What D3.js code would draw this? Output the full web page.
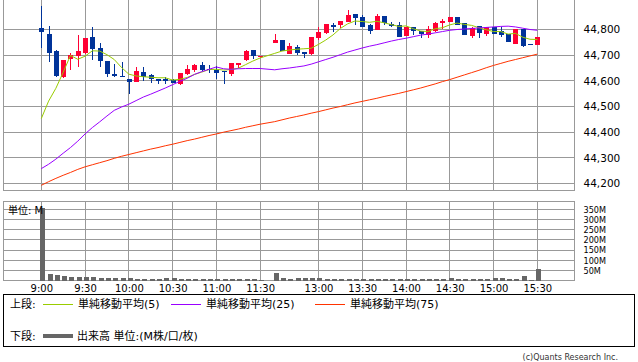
<!DOCTYPE html>
<html>
<head>
<meta charset="utf-8">
<script src="https://cdn.jsdelivr.net/npm/d3@7"></script>
<style>
  body { margin: 0; background: #fff; }
  svg { display: block; font-family: "DejaVu Sans", "Noto Sans CJK JP", sans-serif; }
</style>
</head>
<body>
<div id="chart"></div>
<script>
// 1: DATA (5-minute bars)
const times = [
  "9:00","9:05","9:10","9:15","9:20","9:25","9:30","9:35","9:40","9:45","9:50","9:55",
  "10:00","10:05","10:10","10:15","10:20","10:25","10:30","10:35","10:40","10:45","10:50","10:55",
  "11:00","11:05","11:10","11:15","11:20","11:25","11:30",
  "12:30","12:35","12:40","12:45","12:50","12:55",
  "13:00","13:05","13:10","13:15","13:20","13:25","13:30","13:35","13:40","13:45","13:50","13:55",
  "14:00","14:05","14:10","14:15","14:20","14:25","14:30","14:35","14:40","14:45","14:50","14:55",
  "15:00","15:05","15:10","15:15","15:20","15:25","15:30"
];
const opens = [
  44805,44783,44716,44615,44685,44697,44709,44770,44727,44677,44626,44618,
  44609,44596,44634,44621,44606,44609,44604,44587,44626,44641,44661,44645,
  44643,44637,44627,44661,44680,44719,44691,
  44748,44758,44705,44730,44713,44705,
  44767,44787,44817,44817,44830,44860,44848,44817,44800,44852,44823,44816,
  44775,44808,44795,44779,44795,44826,44828,44848,44825,44775,44813,44782,
  44809,44795,44782,44744,44801,44743,44740
];
const highs = [
  44891,44814,44722,44683,44709,44778,44766,44808,44747,44677,44665,44673,
  44609,44653,44653,44626,44609,44613,44607,44630,44661,44665,44673,44661,
  44657,44637,44669,44669,44722,44719,44696,
  44783,44758,44748,44741,44713,44770,
  44809,44821,44825,44832,44875,44860,44856,44821,44860,44852,44828,44828,
  44809,44808,44795,44812,44828,44840,44848,44848,44825,44810,44813,44808,
  44809,44810,44782,44802,44801,44743,44770
];
const lows = [
  44728,44674,44613,44612,44641,44652,44704,44683,44654,44615,44615,44613,
  44548,44596,44600,44590,44587,44587,44590,44584,44621,44635,44639,44631,
  44606,44587,44618,44649,44678,44686,44689,
  44748,44715,44705,44699,44690,44699,
  44758,44781,44791,44806,44830,44816,44810,44783,44800,44817,44808,44771,
  44775,44779,44767,44767,44791,44802,44828,44817,44779,44765,44765,44775,
  44782,44771,44752,44744,44732,44743,44740
];
const closes = [
  44790,44709,44618,44680,44699,44715,44766,44724,44678,44627,44618,44613,
  44596,44639,44615,44608,44601,44599,44592,44630,44645,44661,44643,44643,
  44631,44633,44669,44669,44715,44697,44696,
  44758,44715,44735,44710,44705,44770,
  44789,44821,44810,44832,44856,44845,44810,44795,44852,44826,44814,44771,
  44809,44795,44783,44801,44825,44832,44848,44817,44779,44805,44787,44808,
  44782,44779,44752,44802,44736,44743,44770
];
const sma5 = [
  44453,44521,44571,44633,44699,44684,44696,44717,44716,44702,44683,44652,
  44626,44619,44616,44614,44612,44612,44603,44606,44613,44625,44634,44644,
  44645,44642,44644,44649,44663,44677,44689,
  44707,44716,44720,44723,44725,44727,
  44742,44759,44779,44804,44822,44833,44831,44828,44832,44826,44819,44812,
  44814,44803,44794,44792,44803,44807,44818,44825,44820,44816,44807,44799,
  44792,44792,44782,44785,44770,44762,44761
];
const sma25 = [
  44258,44275,44295,44318,44340,44365,44393,44418,44440,44463,44485,44498,
  44509,44523,44537,44548,44560,44572,44585,44598,44610,44625,44636,44645,
  44654,44647,44645,44647,44648,44648,44648,
  44643,44647,44650,44654,44658,44665,
  44674,44683,44692,44702,44712,44720,44728,44735,44741,44748,44755,44761,
  44766,44772,44778,44782,44787,44792,44797,44800,44802,44804,44806,44808,
  44810,44812,44813,44810,44805,44800,44797
];
const sma75 = [
  44193,44207,44220,44232,44243,44255,44265,44273,44281,44289,44298,44306,
  44313,44320,44327,44334,44340,44347,44353,44360,44367,44373,44380,44387,
  44393,44400,44406,44412,44419,44425,44431,
  44441,44448,44455,44461,44467,44474,
  44480,44487,44494,44500,44507,44514,44520,44526,44532,44539,44545,44551,
  44558,44565,44572,44580,44588,44597,44605,44614,44623,44632,44641,44651,
  44660,44668,44676,44683,44690,44697,44704
];
// volume in millions
const volumes = [
  355,31,26,21,16,16,16,15,11,11,11,11,
  11,7,7,7,7,11,11,7,7,7,6,6,
  6,6,6,6,6,6,3,
  36,10,6,10,10,10,
  10,7,6,6,6,6,6,6,6,6,6,7,
  6,6,6,8,6,6,10,6,6,8,6,6,
  10,10,6,8,21,2,55
];
const timeTicks = ["9:00","9:30","10:00","10:30","11:00","11:30","13:00","13:30","14:00","14:30","15:00","15:30"];
const priceTicks = [44200,44300,44400,44500,44600,44700,44800];
const volumeTicks = [50,100,150,200,250,300,350];

const bars = times.map((t, i) => ({
  t, o: opens[i], h: highs[i], l: lows[i], c: closes[i],
  s5: sma5[i], s25: sma25[i], s75: sma75[i], v: volumes[i]
}));

// 2: LAYOUT
const width = 638, height = 362;
const left = 3.5, right = 574.5;
const priceTop = 0, priceBottom = 190.5;
const volTop = 201.5, volBottom = 280.5;
const gridColor = "#999";

const svg = d3.select("#chart").append("svg")
  .attr("width", width)
  .attr("height", height);

// 3: SCALES (one empty slot for the lunch break)
const slots = [...times.slice(0, 31), "lunch", ...times.slice(31)];
const x = d3.scalePoint().domain(slots).range([41.3, 537.3]);
const y = d3.scaleLinear().domain([44200, 44800]).range([183.5, 29.5]);
const yVol = d3.scaleLinear().domain([0, 350]).range([volBottom, 209.5]);

// 4: GRID
const grid = svg.append("g").attr("shape-rendering", "crispEdges")
  .attr("stroke", gridColor).attr("stroke-width", 1);

grid.selectAll(".hp").data(priceTicks).join("line")
  .attr("x1", left).attr("x2", right)
  .attr("y1", d => y(d)).attr("y2", d => y(d));
grid.selectAll(".hv").data(volumeTicks).join("line")
  .attr("x1", left).attr("x2", right)
  .attr("y1", d => yVol(d)).attr("y2", d => yVol(d));
grid.selectAll(".vp").data(timeTicks).join("line")
  .attr("x1", d => x(d)).attr("x2", d => x(d))
  .attr("y1", priceTop).attr("y2", priceBottom);
grid.selectAll(".vv").data(timeTicks).join("line")
  .attr("x1", d => x(d)).attr("x2", d => x(d))
  .attr("y1", volTop).attr("y2", volBottom);

// panel borders
grid.append("path").attr("fill", "none")
  .attr("d", `M${left},${priceTop}V${priceBottom}H${right}V${priceTop}`);
grid.append("rect").attr("fill", "none")
  .attr("x", left).attr("y", volTop)
  .attr("width", right - left).attr("height", volBottom - volTop);

// 5: CANDLES
const up = "#ff0033", down = "#003399";
const candle = svg.append("g").attr("shape-rendering", "crispEdges")
  .selectAll("g").data(bars).join("g");
candle.append("line")
  .attr("x1", d => Math.round(x(d.t)) + 0.5).attr("x2", d => Math.round(x(d.t)) + 0.5)
  .attr("y1", d => y(d.h)).attr("y2", d => y(d.l))
  .attr("stroke", d => d.c > d.o ? up : down);
candle.append("rect")
  .attr("x", d => Math.round(x(d.t)) - 2)
  .attr("width", 5)
  .attr("y", d => y(Math.max(d.o, d.c)))
  .attr("height", d => Math.max(1, Math.abs(y(d.o) - y(d.c))))
  .attr("fill", d => d.c > d.o ? up : down);

// 6: MOVING AVERAGES
const maLines = [
  { key: "s5", color: "#99cc00" },
  { key: "s25", color: "#9900ff" },
  { key: "s75", color: "#ff3300" }
];
maLines.forEach(m => {
  svg.append("path")
    .datum(bars)
    .attr("fill", "none")
    .attr("stroke", m.color)
    .attr("stroke-width", 1)
    .attr("d", d3.line().x(d => x(d.t)).y(d => y(d[m.key])));
});

// 7: VOLUME
svg.append("g").attr("shape-rendering", "crispEdges")
  .selectAll("rect").data(bars).join("rect")
  .attr("x", d => Math.round(x(d.t)) - 1.5)
  .attr("width", 5)
  .attr("y", d => yVol(d.v))
  .attr("height", d => volBottom - yVol(d.v))
  .attr("fill", "#666");

// 8: AXES
const priceAxis = svg.append("g")
  .attr("transform", `translate(${right},0)`)
  .call(d3.axisRight(y).tickValues(priceTicks).tickSize(0).tickPadding(9).tickFormat(d3.format(",")));
const volAxis = svg.append("g")
  .attr("transform", `translate(${right},0)`)
  .call(d3.axisRight(yVol).tickValues(volumeTicks).tickSize(0).tickPadding(9).tickFormat(d => d + "M"));
const timeAxis = svg.append("g")
  .attr("transform", `translate(0,${volBottom})`)
  .call(d3.axisBottom(x).tickValues(timeTicks).tickSize(0).tickPadding(4));

[priceAxis, volAxis, timeAxis].forEach(g => {
  g.select(".domain").remove();
  g.attr("font-family", null);
  g.selectAll("text").attr("fill", "#000");
});
priceAxis.attr("font-size", 10.5);
volAxis.attr("font-size", 9).selectAll("text")
  .style("font-family", "'DejaVu Sans Condensed', 'DejaVu Sans', sans-serif");
timeAxis.attr("font-size", 10);

svg.append("text")
  .attr("x", 8).attr("y", 210).attr("dy", "0.35em")
  .attr("font-size", 10)
  .text("単位: M");

// 9: LEGEND
const legend = svg.append("g").attr("font-size", 11);
legend.append("rect")
  .attr("x", 3.5).attr("y", 294.5).attr("width", 631).attr("height", 52)
  .attr("fill", "none").attr("stroke", "#000");

legend.append("text").attr("x", 10).attr("y", 304).attr("dy", "0.35em").text("上段:");
const legendItems = [
  { label: "単純移動平均(5)", color: "#99cc00", x0: 43 },
  { label: "単純移動平均(25)", color: "#9900ff", x0: 171 },
  { label: "単純移動平均(75)", color: "#ff3300", x0: 315 }
];
legendItems.forEach(it => {
  legend.append("line")
    .attr("x1", it.x0).attr("x2", it.x0 + 30)
    .attr("y1", 304.5).attr("y2", 304.5)
    .attr("stroke", it.color);
  legend.append("text")
    .attr("x", it.x0 + 35).attr("y", 304).attr("dy", "0.35em")
    .text(it.label);
});

legend.append("text").attr("x", 10).attr("y", 336).attr("dy", "0.35em").text("下段:");
legend.append("line")
  .attr("x1", 43).attr("x2", 73)
  .attr("y1", 336).attr("y2", 336)
  .attr("stroke", "#666").attr("stroke-width", 4);
legend.append("text")
  .attr("x", 77).attr("y", 336).attr("dy", "0.35em")
  .text("出来高 単位:(M株/口/枚)");

svg.append("text")
  .attr("x", 618).attr("y", 357).attr("dy", "0.35em")
  .attr("text-anchor", "end")
  .attr("font-size", 8)
  .attr("fill", "#333")
  .text("(c)Quants Research Inc.");
</script>
</body>
</html>
